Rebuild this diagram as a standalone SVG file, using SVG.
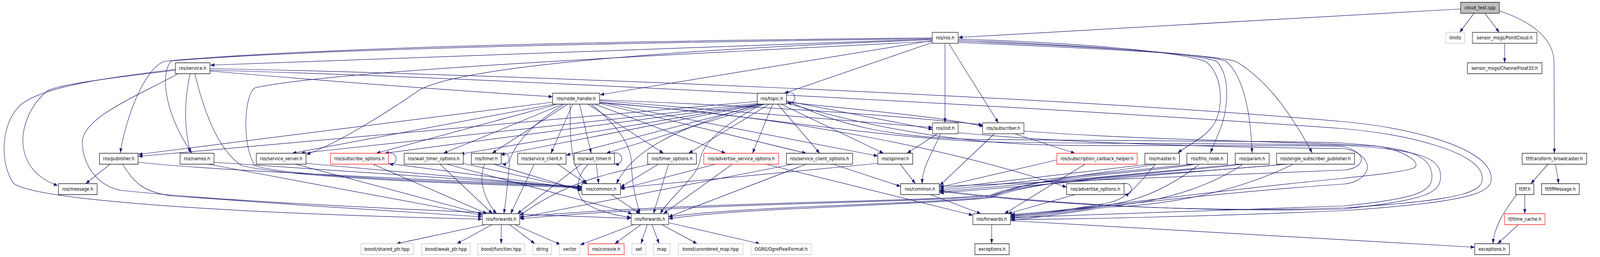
<svg xmlns="http://www.w3.org/2000/svg" width="4728" height="659" viewBox="0 0 4728 659">
<style>
.n rect{fill:#fff;stroke:#000;stroke-width:1.3}
.n text{font-family:"DejaVu Sans","Liberation Sans",sans-serif;font-size:12.7px;text-anchor:middle;fill:#000}
.ext rect{stroke:#bfbfbf}
.trunc rect{stroke:#ff0000}
.root rect{fill:#bfbfbf}
.dk rect{stroke:#404040;stroke-width:1.6}
#edges path{fill:none;stroke:#191970;stroke-width:1.25;marker-end:url(#a)}
</style>
<defs>
<marker id="a" markerUnits="userSpaceOnUse" markerWidth="12" markerHeight="9" viewBox="0 0 12 9" refX="12" refY="4.5" orient="auto"><path d="M0,0 L12,4.5 L0,9 z" fill="#191970"/></marker>
</defs>
<rect width="4728" height="659" fill="#fff"/>
<g id="diagram" transform="scale(0.86,1)">
<g id="edges">
<path d="M4348,23 L2853,96"/>
<path d="M4388,34 L4345,83"/>
<path d="M4420,34 L4463,83"/>
<path d="M4463,28 C4560,55 4626,100 4626,160 L4627,393"/>
<path d="M4479,111 L4479,161"/>
<path d="M4608,421 L4557,471"/>
<path d="M4630,421 L4640,471"/>
<path d="M4539,499 L4539,548"/>
<path d="M4515,499 C4470,550 4448,585 4444,625"/>
<path d="M4520,576 L4458,625"/>
<path d="M2952,576 L2952,625"/>
<path d="M3008,566 L4390,634"/>
<path d="M1445,576 L1180,625"/>
<path d="M1465,576 L1360,625"/>
<path d="M1492,576 L1492,625"/>
<path d="M1517,576 L1592,625"/>
<path d="M1532,576 L1668,627"/>
<path d="M1887,576 L1727,628"/>
<path d="M1908,576 L1830,625"/>
<path d="M1927,576 L1908,625"/>
<path d="M1941,576 L1962,625"/>
<path d="M1970,576 L2075,625"/>
<path d="M1990,571 L2262,625"/>
<path d="M2775,100 L626,167"/>
<path d="M2775,97 C2000,104 1000,117 490,157 C430,175 375,300 358,392"/>
<path d="M2775,99 C2000,108 1000,122 512,156 C480,175 480,280 571,392"/>
<path d="M2775,102 C2200,120 1400,160 1250,230 C1150,290 1000,370 912,396"/>
<path d="M2775,106 C2000,140 1000,180 760,225 C725,240 720,380 760,425 C850,455 1500,472 1731,479"/>
<path d="M2775,104 L1786,243"/>
<path d="M2775,109 L2335,239"/>
<path d="M2813,111 L2813,315"/>
<path d="M2824,111 L2972,315"/>
<path d="M2852,100 C3200,110 3500,130 3590,158 C3650,200 3640,300 3603,330 C3580,355 3540,370 3506,392"/>
<path d="M2852,103 C3200,115 3550,135 3621,157 C3665,195 3655,280 3633,330 L3603,392"/>
<path d="M2852,106 C3300,120 3600,140 3649,157 C3690,185 3722,260 3727,392"/>
<path d="M2852,109 C3300,125 3620,140 3680,158 C3760,200 3830,270 3906,392"/>
<path d="M566,189 C548,260 548,330 567,392"/>
<path d="M522,180 C380,195 170,215 138,235 C90,270 60,330 70,380 C80,430 120,460 172,476"/>
<path d="M625,182 C1000,210 1400,235 1645,248"/>
<path d="M522,178 C300,200 120,225 60,270 C0,320 0,420 40,470 C100,510 600,545 1435,562"/>
<path d="M530,189 C400,250 250,300 245,363 C245,430 300,480 360,488 C700,520 1400,545 1878,560"/>
<path d="M580,189 C600,260 640,380 720,425 C900,460 1500,475 1731,481"/>
<path d="M625,176 C1500,190 3200,250 4000,312 C4200,328 4405,375 4435,440 C4455,490 4420,515 4000,540 C3600,555 3200,562 3009,563"/>
<path d="M625,180 C1500,200 3200,280 4000,330 C4200,345 4390,390 4410,445 C4425,490 4380,512 4000,533 C3500,548 3000,515 2797,490"/>
<path d="M328,421 L255,471"/>
<path d="M2335,239 C2372,226 2378,268 2343,264"/>
<path d="M1150,393 C1185,385 1190,425 1158,420"/>
<path d="M1488,393 C1522,385 1525,425 1494,420"/>
<path d="M1822,393 C1858,385 1860,425 1830,420"/>
<path d="M3340,471 C3375,463 3378,503 3347,498"/>
<path d="M1645,262 L412,396"/>
<path d="M1650,267 L870,393"/>
<path d="M1660,267 L1120,393"/>
<path d="M1675,267 L1320,393"/>
<path d="M1690,267 L1465,393"/>
<path d="M1705,267 L1640,393"/>
<path d="M1725,267 L1760,393"/>
<path d="M1750,267 L1975,393"/>
<path d="M1770,267 L2160,393"/>
<path d="M1785,265 L2400,393"/>
<path d="M1785,262 L2613,400"/>
<path d="M1785,258 L2776,327"/>
<path d="M1785,256 C2200,270 2600,290 2925,320"/>
<path d="M1785,264 C2400,300 2900,400 3175,480"/>
<path d="M2254,260 L412,401"/>
<path d="M2256,265 L895,393"/>
<path d="M2258,267 L1145,393"/>
<path d="M2262,267 L1370,395"/>
<path d="M2266,267 L1490,397"/>
<path d="M2272,267 L1685,398"/>
<path d="M2278,267 L1805,393"/>
<path d="M2290,267 L2050,393"/>
<path d="M2300,267 L2240,393"/>
<path d="M2315,267 L2440,393"/>
<path d="M2325,267 L2630,393"/>
<path d="M2341,259 L2776,332"/>
<path d="M2341,262 C2600,285 2800,300 2928,324"/>
<path d="M411,416 C500,425 700,440 1731,478"/>
<path d="M365,421 C400,470 430,495 520,503 C800,520 1200,545 1435,556"/>
<path d="M637,416 L1731,480"/>
<path d="M620,421 L1435,552"/>
<path d="M911,419 L1731,482"/>
<path d="M880,421 L1436,549"/>
<path d="M1156,419 L1731,484"/>
<path d="M1110,421 L1450,548"/>
<path d="M1379,419 L1731,486"/>
<path d="M1310,421 L1466,548"/>
<path d="M1330,421 L1882,548"/>
<path d="M1470,421 L1732,489"/>
<path d="M1442,421 C1420,470 1450,520 1478,548"/>
<path d="M1660,421 L1745,471"/>
<path d="M1590,421 L1520,548"/>
<path d="M1775,421 L1782,471"/>
<path d="M1752,421 C1715,450 1705,500 1750,525 C1790,545 1840,553 1879,558"/>
<path d="M1730,421 L1540,548"/>
<path d="M1960,421 L1847,480"/>
<path d="M1990,421 L1945,548"/>
<path d="M1935,421 C1850,440 1700,455 1547,553"/>
<path d="M2130,421 L1847,485"/>
<path d="M2180,421 L1975,548"/>
<path d="M2280,421 L2896,552"/>
<path d="M2480,421 L2681,478"/>
<path d="M2400,421 L1990,556"/>
<path d="M2360,421 L1547,558"/>
<path d="M2680,421 L2725,471"/>
<path d="M2613,419 L1847,482"/>
<path d="M2790,343 L2700,393"/>
<path d="M2800,343 C2770,400 2745,430 2745,471"/>
<path d="M3020,343 L3200,393"/>
<path d="M2960,343 L2797,476"/>
<path d="M3146,410 L2797,480"/>
<path d="M3230,421 L2990,548"/>
<path d="M3200,499 L3000,548"/>
<path d="M3420,421 L2797,484"/>
<path d="M3440,421 C3400,460 3360,510 3300,520 C3200,535 3100,550 3008,552"/>
<path d="M3440,421 C3300,445 3080,455 2950,505 C2700,525 2200,530 1990,556"/>
<path d="M3550,421 L2797,488"/>
<path d="M3570,421 C3500,470 3400,515 3300,525 C3200,535 3100,553 3008,556"/>
<path d="M3560,421 C3400,445 3100,450 2950,500 C2700,520 2100,515 1547,556"/>
<path d="M3690,421 L2797,492"/>
<path d="M3700,421 C3600,480 3450,520 3300,528 C3200,538 3100,556 3008,560"/>
<path d="M3700,421 C3450,448 3100,455 2950,507 C2700,528 2200,533 1990,561"/>
<path d="M3830,421 L2797,495"/>
<path d="M3850,421 C3700,485 3500,525 3300,531 C3200,541 3100,559 3008,564"/>
<path d="M3830,421 C3500,448 3100,455 2950,502 C2700,522 2100,518 1547,561"/>
<path d="M1697,267 C1697,380 1700,430 1748,471"/>
<path d="M2262,267 C2000,330 1880,390 1835,471"/>
<path d="M1680,267 C1560,330 1520,390 1516,420 C1513,460 1505,520 1500,548"/>
<path d="M1760,267 C1850,330 1880,380 1880,420 C1880,470 1895,520 1905,548"/>
<path d="M2270,267 C2150,320 2090,370 2084,410 C2080,450 2000,500 1965,548"/>
<path d="M1820,499 L1905,548"/>
<path d="M2770,499 L2920,548"/>
<path d="M2341,258 C2500,320 2650,360 3000,358 C3500,362 3900,362 4000,367 C4200,378 4255,400 4262,445 C4268,490 4230,508 4000,528 C3500,545 3200,555 3009,558"/>
<path d="M1785,262 C2300,300 2650,360 3000,365 C3500,370 3900,368 4000,373 C4220,383 4285,405 4288,447 C4292,495 4250,512 4000,536 C3500,548 3000,512 2797,488"/>
<path d="M2341,264 C2650,340 2900,372 3200,373 C3600,374 3950,372 4000,376 C4040,385 4056,400 4052,412 C4046,428 4025,434 4000,436 C3500,455 3000,470 2797,478"/>
<path d="M2852,340 C3200,370 3700,378 4000,381 C4060,390 4080,420 4066,442 C4050,465 4020,470 4000,472 C3600,495 3200,540 3009,554"/>
<path d="M3048,336 C3400,360 3950,365 4100,375 C4180,385 4240,420 4205,432 C4150,445 4050,452 4000,457 C3600,490 3200,540 3009,550"/>
</g>
<g id="n_cloud_test" class="n root"><rect x="4348" y="6" width="115" height="28"/><text x="4405.5" y="24.5">cloud_test.cpp</text></g>
<g id="n_ros_ros" class="n dk"><rect x="2775" y="83" width="77" height="28"/><text x="2813.5" y="101.5">ros/ros.h</text></g>
<g id="n_limits" class="n ext"><rect x="4304" y="83" width="56" height="28"/><text x="4332" y="101.5">limits</text></g>
<g id="n_pointcloud" class="n dk"><rect x="4383" y="83" width="192" height="28"/><text x="4479" y="101.5">sensor_msgs/PointCloud.h</text></g>
<g id="n_service" class="n"><rect x="522" y="161" width="103" height="28"/><text x="573.5" y="179.5">ros/service.h</text></g>
<g id="n_channelfloat32" class="n"><rect x="4368" y="161" width="222" height="28"/><text x="4479" y="179.5">sensor_msgs/ChannelFloat32.h</text></g>
<g id="n_node_handle" class="n"><rect x="1645" y="239" width="140" height="28"/><text x="1715" y="257.5">ros/node_handle.h</text></g>
<g id="n_topic" class="n"><rect x="2254" y="239" width="87" height="28"/><text x="2297.5" y="257.5">ros/topic.h</text></g>
<g id="n_init" class="n dk"><rect x="2776" y="315" width="76" height="28"/><text x="2814" y="333.5">ros/init.h</text></g>
<g id="n_subscriber" class="n dk"><rect x="2925" y="315" width="123" height="28"/><text x="2986.5" y="333.5">ros/subscriber.h</text></g>
<g id="n_publisher" class="n"><rect x="296" y="393" width="115" height="28"/><text x="353.5" y="411.5">ros/publisher.h</text></g>
<g id="n_names" class="n"><rect x="536" y="393" width="101" height="28"/><text x="586.5" y="411.5">ros/names.h</text></g>
<g id="n_service_server" class="n"><rect x="763" y="393" width="148" height="28"/><text x="837" y="411.5">ros/service_server.h</text></g>
<g id="n_subscribe_options" class="n trunc"><rect x="984" y="393" width="172" height="28"/><text x="1070" y="411.5">ros/subscribe_options.h</text></g>
<g id="n_wall_timer_options" class="n"><rect x="1203" y="393" width="176" height="28"/><text x="1291" y="411.5">ros/wall_timer_options.h</text></g>
<g id="n_timer" class="n"><rect x="1403" y="393" width="89" height="28"/><text x="1447.5" y="411.5">ros/timer.h</text></g>
<g id="n_service_client" class="n"><rect x="1541" y="393" width="144" height="28"/><text x="1613" y="411.5">ros/service_client.h</text></g>
<g id="n_wall_timer" class="n"><rect x="1709" y="393" width="120" height="28"/><text x="1769" y="411.5">ros/wall_timer.h</text></g>
<g id="n_timer_options" class="n"><rect x="1928" y="393" width="145" height="28"/><text x="2000.5" y="411.5">ros/timer_options.h</text></g>
<g id="n_advertise_service_options" class="n trunc"><rect x="2095" y="393" width="223" height="28"/><text x="2206.5" y="411.5">ros/advertise_service_options.h</text></g>
<g id="n_service_client_options" class="n"><rect x="2341" y="393" width="197" height="28"/><text x="2439.5" y="411.5">ros/service_client_options.h</text></g>
<g id="n_spinner" class="n"><rect x="2613" y="393" width="104" height="28"/><text x="2665" y="411.5">ros/spinner.h</text></g>
<g id="n_subscription_callback_helper" class="n trunc"><rect x="3146" y="393" width="239" height="28"/><text x="3265.5" y="411.5">ros/subscription_callback_helper.h</text></g>
<g id="n_master" class="n"><rect x="3408" y="393" width="103" height="28"/><text x="3459.5" y="411.5">ros/master.h</text></g>
<g id="n_this_node" class="n"><rect x="3533" y="393" width="121" height="28"/><text x="3593.5" y="411.5">ros/this_node.h</text></g>
<g id="n_param" class="n"><rect x="3677" y="393" width="101" height="28"/><text x="3727.5" y="411.5">ros/param.h</text></g>
<g id="n_single_subscriber_publisher" class="n"><rect x="3800" y="393" width="232" height="28"/><text x="3916" y="411.5">ros/single_subscriber_publisher.h</text></g>
<g id="n_transform_broadcaster" class="n"><rect x="4531" y="393" width="192" height="28"/><text x="4627" y="411.5">tf/transform_broadcaster.h</text></g>
<g id="n_message" class="n"><rect x="174" y="471" width="115" height="28"/><text x="231.5" y="489.5">ros/message.h</text></g>
<g id="n_common_a" class="n"><rect x="1732" y="471" width="115" height="28"/><text x="1789.5" y="489.5">ros/common.h</text></g>
<g id="n_common_b" class="n"><rect x="2681" y="471" width="115" height="28"/><text x="2738.5" y="489.5">ros/common.h</text></g>
<g id="n_advertise_options" class="n"><rect x="3175" y="471" width="171" height="28"/><text x="3260.5" y="489.5">ros/advertise_options.h</text></g>
<g id="n_tf" class="n"><rect x="4512" y="471" width="54" height="28"/><text x="4539" y="489.5">tf/tf.h</text></g>
<g id="n_tfmessage" class="n"><rect x="4589" y="471" width="112" height="28"/><text x="4645" y="489.5">tf/tfMessage.h</text></g>
<g id="n_forwards_a" class="n dk"><rect x="1436" y="548" width="111" height="28"/><text x="1491.5" y="566.5">ros/forwards.h</text></g>
<g id="n_forwards_b" class="n dk"><rect x="1879" y="548" width="111" height="28"/><text x="1934.5" y="566.5">ros/forwards.h</text></g>
<g id="n_forwards_c" class="n dk"><rect x="2896" y="548" width="112" height="28"/><text x="2952" y="566.5">ros/forwards.h</text></g>
<g id="n_time_cache" class="n trunc"><rect x="4479" y="548" width="120" height="28"/><text x="4539" y="566.5">tf/time_cache.h</text></g>
<g id="n_shared_ptr" class="n ext"><rect x="1074" y="625" width="156" height="28"/><text x="1152" y="643.5">boost/shared_ptr.hpp</text></g>
<g id="n_weak_ptr" class="n ext"><rect x="1255" y="625" width="145" height="28"/><text x="1327.5" y="643.5">boost/weak_ptr.hpp</text></g>
<g id="n_function" class="n ext"><rect x="1422" y="625" width="140" height="28"/><text x="1492" y="643.5">boost/function.hpp</text></g>
<g id="n_string" class="n ext"><rect x="1586" y="625" width="56" height="28"/><text x="1614" y="643.5">string</text></g>
<g id="n_vector" class="n ext"><rect x="1665" y="625" width="62" height="28"/><text x="1696" y="643.5">vector</text></g>
<g id="n_console" class="n trunc"><rect x="1751" y="625" width="107" height="28"/><text x="1804.5" y="643.5">ros/console.h</text></g>
<g id="n_set" class="n ext"><rect x="1881" y="625" width="41" height="28"/><text x="1901.5" y="643.5">set</text></g>
<g id="n_map" class="n ext"><rect x="1945" y="625" width="50" height="28"/><text x="1970" y="643.5">map</text></g>
<g id="n_unordered_map" class="n ext"><rect x="2019" y="625" width="193" height="28"/><text x="2115.5" y="643.5">boost/unordered_map.hpp</text></g>
<g id="n_ogre" class="n ext"><rect x="2236" y="625" width="179" height="28"/><text x="2325.5" y="643.5">OGRE/OgrePixelFormat.h</text></g>
<g id="n_exceptions_a" class="n"><rect x="2902" y="625" width="102" height="28"/><text x="2953" y="643.5">exceptions.h</text></g>
<g id="n_exceptions_b" class="n"><rect x="4390" y="625" width="103" height="28"/><text x="4441.5" y="643.5">exceptions.h</text></g>
</g>
</svg>
